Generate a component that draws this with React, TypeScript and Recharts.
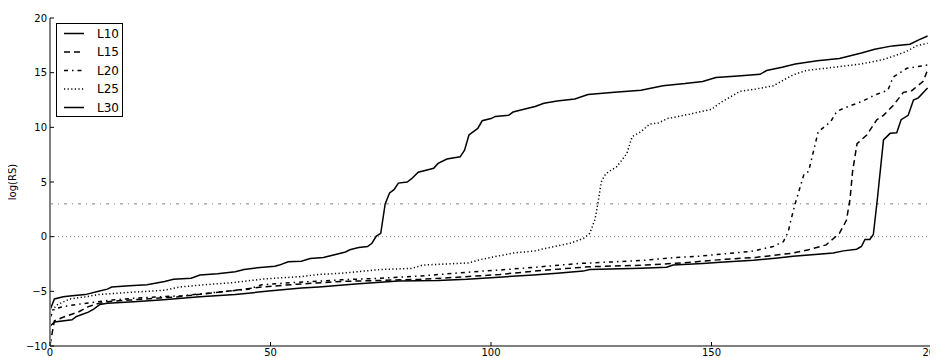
import React from 'react';
import { LineChart, Line, XAxis, YAxis, ReferenceLine, Legend } from 'recharts';

const X_TICKS = [0, 50, 100, 150, 200];
const Y_TICKS = [-10, -5, 0, 5, 10, 15, 20];
const SERIES_NAMES = ['L10', 'L15', 'L20', 'L25', 'L30'];

const L10: [number, number][] = [
  [0, -8.2], [1, -7.8], [5, -7.6], [6, -7.3], [8.7, -6.9], [10, -6.6], [11.3, -6.2], [13, -6.1],
  [19, -5.95], [25, -5.8], [34, -5.5], [42, -5.3], [49, -5.0], [57, -4.7], [61, -4.6], [70, -4.3],
  [79, -4.05], [88, -4.0], [94.5, -3.9], [100, -3.75], [109.6, -3.5], [115, -3.35], [120.9, -3.15],
  [122.4, -3.0], [134, -2.9], [139.8, -2.8], [141.3, -2.6], [148, -2.45], [152, -2.35], [159.5, -2.15],
  [165, -1.95], [168.5, -1.8], [177.6, -1.5], [179.9, -1.3], [182.9, -1.15], [184, -0.9], [184.8, -0.25],
  [185.9, -0.25], [186.7, 0.2], [187.6, 3.4], [189, 8.85], [190.5, 9.45], [192, 9.5], [193, 10.7],
  [194.6, 11.1], [195.8, 12.5], [196.9, 12.7], [199, 13.6],
];

const L15: [number, number][] = [
  [0, -9.9], [1, -7.7], [3.4, -7.3], [6.4, -6.9], [8.7, -6.4], [11, -6.1], [14, -5.9], [18, -5.8],
  [29, -5.5], [40, -5.0], [48, -4.6], [56, -4.35], [66, -4.1], [84, -3.9], [93, -3.7], [102, -3.45],
  [112.6, -3.05], [122.4, -2.75], [135, -2.6], [145, -2.35], [152, -2.1], [160, -1.9], [168.5, -1.5],
  [172, -1.2], [176, -0.75], [179, 0.3], [180.6, 1.5], [181.4, 3.4], [182, 6.0], [183, 8.5],
  [185.2, 9.3], [187.5, 10.7], [189, 11.1], [191.2, 12.0], [193.5, 13.2], [195.4, 13.35], [198, 14.2],
  [199, 15.25],
];

const L20: [number, number][] = [
  [0, -7.4], [1, -6.6], [3, -6.4], [6, -6.2], [10, -6.0], [14, -5.8], [20, -5.6], [30, -5.4],
  [40, -5.0], [45, -4.8], [48, -4.4], [55, -4.2], [66, -3.95], [75, -3.8], [84, -3.6], [90, -3.4],
  [98, -3.15], [102, -3.05], [110, -2.8], [120, -2.45], [128, -2.3], [135, -2.15], [142, -1.9],
  [147, -1.8], [152, -1.6], [159, -1.35], [164, -0.9], [166.3, -0.45], [167.4, 0.45], [168, 1.5],
  [169, 3.05], [170, 4.4], [171, 5.75], [172, 5.95], [173, 7.6], [174.2, 9.6], [177, 10.5],
  [178.4, 11.45], [180, 11.75], [184, 12.35], [187, 12.95], [190, 13.4], [191.2, 14.6], [194.3, 15.4],
  [199, 15.7],
];

const L25: [number, number][] = [
  [0, -7.0], [1.5, -6.25], [4.5, -5.7], [8, -5.5], [11, -5.3], [18, -5.1], [26, -4.9], [29.5, -4.6],
  [35, -4.4], [41.5, -4.2], [49, -3.85], [57, -3.65], [61, -3.45], [66, -3.35], [75, -3.0], [82, -2.9],
  [84.5, -2.6], [95, -2.4], [97.5, -2.1], [100, -1.9], [105, -1.5], [110, -1.3], [112.6, -1.05],
  [118, -0.6], [121, -0.15], [122.4, 0.3], [123.6, 1.6], [124.3, 3.2], [125, 5.0], [126, 5.75],
  [128.5, 6.4], [130.8, 7.6], [132, 9.15], [134, 9.6], [136, 10.3], [138, 10.4], [140, 10.8],
  [145, 11.2], [150, 11.65], [152, 12.25], [156.5, 13.3], [160, 13.5], [164, 13.8], [168.5, 14.8],
  [171.5, 15.2], [179, 15.55], [184, 15.8], [189, 16.2], [194, 16.9], [196.5, 17.45], [199, 17.7],
];

const L30: [number, number][] = [
  [0, -6.7], [1, -5.7], [3, -5.5], [5, -5.4], [8, -5.3], [11, -5.0], [13, -4.8], [14, -4.6],
  [18, -4.5], [22, -4.4], [26, -4.1], [28, -3.9], [32, -3.8], [34, -3.5], [38, -3.4], [42, -3.2],
  [44, -3.0], [47, -2.85], [51, -2.7], [52, -2.6], [54, -2.3], [57, -2.25], [59, -2.0], [62, -1.9],
  [65, -1.6], [67, -1.4], [68, -1.2], [70, -1.0], [72, -0.9], [73, -0.6], [74, 0.05], [75, 0.3],
  [76, 3.0], [77, 4.0], [78, 4.3], [79, 4.9], [81, 5.0], [82, 5.3], [83.5, 5.9], [85.5, 6.1],
  [87, 6.25], [88, 6.7], [90, 7.1], [93, 7.3], [94, 7.9], [95, 9.3], [97, 9.9], [98, 10.6],
  [100, 10.8], [101, 11.0], [104, 11.1], [105, 11.4], [107, 11.6], [110, 11.9], [112, 12.2],
  [115, 12.4], [119, 12.6], [122, 13.0], [128, 13.2], [134, 13.4], [139, 13.8], [144, 14.0],
  [148, 14.2], [151, 14.55], [156, 14.7], [161, 14.85], [162.5, 15.2], [166, 15.5], [169, 15.8],
  [174, 16.1], [179, 16.3], [184, 16.8], [187, 17.15], [191, 17.45], [195, 17.6], [197, 18.0],
  [199, 18.35],
];

const FONT = '"DejaVu Sans", sans-serif';

const SERIES = [
  { name: SERIES_NAMES[0], points: L10, dash: undefined as string | undefined },
  { name: SERIES_NAMES[1], points: L15, dash: '6 4' },
  { name: SERIES_NAMES[2], points: L20, dash: '4 4 1.5 4' },
  { name: SERIES_NAMES[3], points: L25, dash: '1.2 2.4' },
  { name: SERIES_NAMES[4], points: L30, dash: undefined as string | undefined },
];

const fmt = (v: number) => (v < 0 ? '\u2212' + Math.abs(v) : String(v));

const BottomTick = (props: any) => {
  const { x, y, payload } = props;
  return (
    <g>
      <line x1={x} x2={x} y1={y} y2={y - 4} stroke="#000" strokeWidth={1} />
      <text x={x} y={y + 10} textAnchor="middle" fontSize={10} fontFamily={FONT} fill="#000">
        {fmt(payload.value)}
      </text>
    </g>
  );
};

const TopTick = (props: any) => {
  const { x, y } = props;
  return <line x1={x} x2={x} y1={y} y2={y + 4} stroke="#000" strokeWidth={1} />;
};

const LeftTick = (props: any) => {
  const { x, y, payload } = props;
  return (
    <g>
      <line x1={x} x2={x + 4} y1={y} y2={y} stroke="#000" strokeWidth={1} />
      <text x={x - 3} y={y} dy="0.35em" textAnchor="end" fontSize={10} fontFamily={FONT} fill="#000">
        {fmt(payload.value)}
      </text>
    </g>
  );
};

const RightTick = (props: any) => {
  const { x, y } = props;
  return <line x1={x} x2={x - 4} y1={y} y2={y} stroke="#000" strokeWidth={1} />;
};

const LegendBox = () => (
  <div
    style={{
      border: '1px solid #000',
      background: '#fff',
      width: 67,
      height: 94,
      boxSizing: 'border-box',
    }}
  >
    <svg width={65} height={92} style={{ display: 'block' }}>
      {SERIES.map((s, i) => {
        const cy = 9.5 + 18.5 * i;
        return (
          <g key={s.name}>
            <line
              x1={7}
              x2={27}
              y1={cy}
              y2={cy}
              stroke="#000"
              strokeWidth={1.5}
              strokeDasharray={s.dash}
            />
            <text x={40} y={cy} dy="0.36em" fontSize={12} fontFamily={FONT} fill="#000">
              {s.name}
            </text>
          </g>
        );
      })}
    </svg>
  </div>
);

export default function App() {
  return (
    <LineChart width={930} height={350} margin={{ top: 10, right: 6, bottom: 0, left: 0 }}>
      <XAxis
        dataKey="x"
        type="number"
        domain={[0, 200]}
        ticks={X_TICKS}
        interval={0}
        allowDataOverflow
        height={12}
        tickLine={false}
        tickSize={0}
        tickMargin={0}
        tick={<BottomTick />}
        axisLine={{ stroke: '#000', strokeWidth: 1 }}
      />
      <XAxis
        xAxisId="top"
        orientation="top"
        dataKey="x"
        type="number"
        domain={[0, 200]}
        ticks={X_TICKS}
        interval={0}
        allowDataOverflow
        height={0}
        tickLine={false}
        tickSize={0}
        tickMargin={0}
        tick={<TopTick />}
        axisLine={{ stroke: '#000', strokeWidth: 1 }}
      />
      <YAxis
        type="number"
        domain={[-10, 20]}
        ticks={Y_TICKS}
        interval={0}
        allowDataOverflow
        width={42}
        tickLine={false}
        tickSize={0}
        tickMargin={0}
        tick={<LeftTick />}
        axisLine={{ stroke: '#808080', strokeWidth: 2 }}
        label={{
          value: 'log(RS)',
          angle: -90,
          position: 'insideLeft',
          offset: 4,
          style: { textAnchor: 'middle', fontSize: 10, fontFamily: FONT, fill: '#000' },
        }}
      />
      <YAxis
        yAxisId="right"
        orientation="right"
        type="number"
        domain={[-10, 20]}
        ticks={Y_TICKS}
        interval={0}
        allowDataOverflow
        width={0}
        tickLine={false}
        tickSize={0}
        tickMargin={0}
        tick={<RightTick />}
        axisLine={{ stroke: '#000', strokeWidth: 1 }}
      />
      <ReferenceLine y={3} stroke="#7f7f7f" strokeWidth={1} strokeDasharray="3 5 1 5" />
      <ReferenceLine y={0} stroke="#7f7f7f" strokeWidth={1} strokeDasharray="1 3" />
      {SERIES.map((s) => (
        <Line
          key={s.name}
          name={s.name}
          data={s.points.map(([x, y]) => ({ x, y }))}
          dataKey="y"
          type="linear"
          stroke="#000"
          strokeWidth={1.5}
          strokeDasharray={s.dash}
          dot={false}
          activeDot={false}
          isAnimationActive={false}
        />
      ))}
      <Legend
        layout="vertical"
        align="center"
        verticalAlign="middle"
        wrapperStyle={{ left: 48, top: 15, width: 67, height: 94 }}
        content={() => <LegendBox />}
      />
    </LineChart>
  );
}
